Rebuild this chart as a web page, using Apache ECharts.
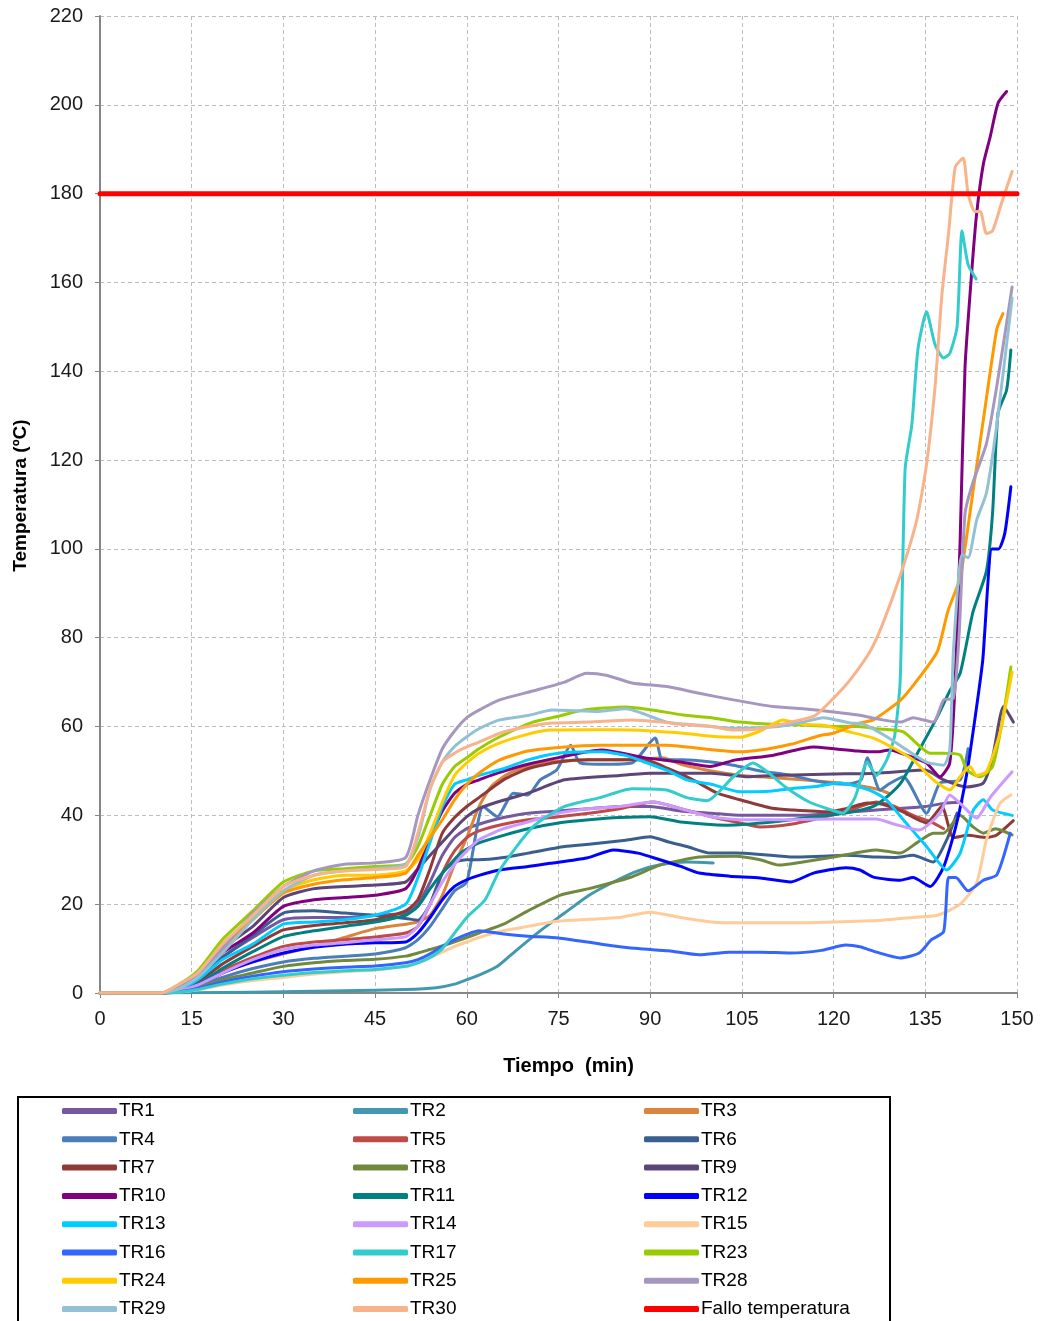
<!DOCTYPE html>
<html>
<head>
<meta charset="utf-8">
<title>Temperatura vs tiempo</title>
<script src="https://cdn.jsdelivr.net/npm/echarts@6/dist/echarts.min.js"></script>
<style>
  html, body { margin: 0; padding: 0; background: #fff; }
  #chart { width: 1040px; height: 1321px; }
</style>
</head>
<body>
<div id="chart"></div>
<script>
// Thermocouple readings: [time (min), temperature (ºC)]
const TR1 = [[0,0],[10,0],[13,1],[16,3],[20,8],[25,12.5],[30,16.5],[35,17],[40,17],[45,17.5],[50,18],[52,20],[54,25],[56,31],[58,35],[60,37],[62,38],[66,39.5],[70,40.5],[75,41],[80,41.5],[85,42],[90,42],[95,41],[100,40.5],[105,40],[110,40],[115,40],[120,40.5],[125,41],[130,41.5],[135,42],[138,42.7],[141,43]];
const TR2 = [[0,0],[10,0],[20,0.1],[30,0.3],[40,0.5],[50,0.8],[55,1.2],[58,2],[60,3],[62,4],[65,6],[68,9.5],[72,14],[76,18],[80,22],[84,25],[88,27.5],[92,29],[96,29.5],[100.3,29.3]];
const TR3 = [[0,0],[10,0],[13,0.5],[16,1.8],[20,4.5],[25,7],[30,8.8],[35,10.5],[40,12.5],[45,14.5],[50,15.5],[52,16],[54,17.5],[56,22],[58,29],[60,35],[62,42],[64,46.5],[67,49.5],[72,51.8],[80,52.5],[88,52.5],[92,53],[95,51.5],[100,50],[105,49],[110,48.5],[115,48],[121,47.3],[125,46.5],[127.6,45.7],[129,45]];
const TR4 = [[0,0],[10,0],[13,0.4],[16,1.4],[20,3.5],[25,5.5],[30,7],[35,7.8],[40,8.3],[45,8.8],[50,10.2],[52,12],[54,15],[56,19],[58,23],[60,25],[62.7,42],[65,39.7],[67.6,45],[70,44.6],[72,48],[74.7,50.2],[77,55.8],[78.5,51.8],[82,51.5],[87,51.8],[90.8,57.4],[92,52.5],[95.4,52.5],[100,52],[103.6,51.3],[108,50],[113,49],[118,47.5],[122,47],[124.5,48],[125.5,53],[127.6,45.7],[129,47],[131.4,48.7],[135.2,40.5],[137.4,47.3],[140.7,48],[142,55]];
const TR5 = [[0,0],[10,0],[13,0.6],[16,2],[20,5],[25,8],[30,10.5],[35,11.5],[40,12],[45,12.6],[50,13.5],[52,15],[54,20],[56,27],[58,32],[60,35],[62,36.5],[66,38],[70,39],[75,39.7],[80,40.5],[85,41.5],[90.5,43],[95,41.5],[100,39.7],[104,38.5],[108,37.4],[113,38],[118,39.5],[122,40.8],[127,43],[130,42],[133,40],[136,38.5],[138,37]];
const TR6 = [[0,0],[10,0],[13,1],[16,3],[20,8],[25,13],[30,18],[35,18.5],[40,18],[45,17.5],[50,16.8],[52,16.4],[54,20],[56,27],[58,29.5],[60,30],[62,30],[66,30.5],[70,31.5],[76,33],[80,33.5],[86,34.4],[90,35.2],[93,34],[96,33],[99.8,31.5],[104,31.5],[108,31.2],[113.4,30.6],[118,30.8],[122,31],[127,30.6],[130,30.5],[133,31],[136.3,29.5],[138.5,34.5],[140.2,40.5]];
const TR7 = [[0,0],[10,0],[13,0.8],[16,2.5],[20,6.5],[25,10.5],[30,14.2],[35,15.2],[40,15.8],[45,16.5],[50,18.5],[52,21],[54,28],[56,36],[58,39.5],[60,42],[62,44],[66,48],[70,50.5],[75,52],[80,52.5],[89,52.5],[93,50.5],[97,48],[101,45],[104.7,43.5],[110,41.6],[113.4,41.2],[119,40.8],[122,41.5],[125.5,42.8],[128,42.5],[131,41],[135.2,38.3],[137.7,42],[139.6,35],[142,35.5],[145,35],[146.7,35.6],[149.4,38.8]];
const TR8 = [[0,0],[10,0],[13,0.3],[16,1.2],[20,3],[25,4.5],[30,6],[35,6.8],[40,7.3],[45,7.6],[50,8.3],[52,9],[54,9.8],[56,10.6],[58,11.5],[62,13.5],[66,15.5],[70,18.5],[75.2,22],[80,23.5],[86.7,26],[91.6,28.8],[98,30.6],[104,30.8],[108,30],[111,28.8],[115,29.5],[120,30.6],[127,32.2],[130.9,31.5],[133.6,33.8],[136.3,36],[138,36],[140.7,40],[142.8,37.4],[144.5,36],[146.5,37],[149.2,35.6]];
const TR9 = [[0,0],[10,0],[13,1],[16,4],[20,10],[25,15],[30,21.5],[35,23.5],[40,24],[45,24.3],[50,25],[52,28],[54,31],[56,34],[58,37],[60,39.7],[62,41.5],[65,43],[70,45],[76,48],[85,49],[90,49.5],[95,49.5],[100,49.5],[106,48.7],[110,49],[120,49.3],[127,49.5],[135,50.2],[138,48],[141.8,46.4],[144.5,47.3],[146,53],[147.8,64.5],[149.4,61]];
const TR10 = [[0,0],[10,0],[13,1],[16,3.5],[20,9],[25,13.5],[30,19.5],[35,21],[40,21.5],[45,22],[50,23.5],[52,28],[54,35],[56,41],[58,45],[60,47],[62,48],[65,49.5],[70,51.5],[75,53],[82,54.7],[89,53],[95,52],[99.8,51],[104,52.5],[110,53.5],[116.7,55.4],[120,55],[124,54.5],[127,54.3],[129.2,54.7],[132,53.5],[135.2,51.8],[137.4,48.7],[139,51.8],[139.9,70.5],[140.7,102],[141.5,141],[142.6,162.5],[143.4,175.5],[144.5,186.7],[145.6,192.7],[146.9,200.4],[148.3,203]];
const TR11 = [[0,0],[10,0],[13,0.6],[16,2],[20,5.5],[25,9.3],[30,12.7],[35,14],[40,15],[45,16],[50,17.5],[52,19.5],[54,23.5],[56,27],[59,31.5],[62,33.8],[66,35.5],[70,37],[75,38.3],[80,39],[85,39.5],[90,39.7],[95,38.5],[102.6,37.8],[110,38.5],[117,39.7],[122,40.5],[126.5,42],[129,44.5],[131,47.3],[134,54.7],[136.9,62],[139,68],[140.7,72],[142.8,85.8],[145,95],[146,108],[146.9,130.6],[148.3,135.8],[149,144.8]];
const TR12 = [[0,0],[10,0],[13,0.5],[16,1.8],[20,4.5],[25,7],[30,9],[35,10.3],[40,11],[45,11.3],[50,11.5],[52,13.5],[54,17],[56,21],[58,24],[60,25.5],[62,26.5],[65.4,27.7],[70,28.5],[73.6,29.2],[79.6,30.4],[84,32.2],[88,31.5],[91.6,30],[95,28.5],[98,27],[103,26.3],[108,25.9],[113,25],[116.7,27],[122,28.2],[124.3,27.7],[126.5,26.1],[130.9,25.4],[133,26],[135.8,24],[138,28.4],[140,37.5],[141.8,49.5],[143.4,64.5],[144.4,75],[145.9,100],[147,100],[148,103.5],[149,114]];
const TR13 = [[0,0],[10,0],[13,0.8],[16,3],[20,7.5],[25,11],[30,15.5],[35,16],[40,16.5],[45,17.5],[50,20],[52,26],[54,34],[56,42],[58,47],[60,48],[62,49],[66,50.5],[70,52.5],[75,54],[82,54.3],[86,53.5],[89.5,51.8],[93,50],[96,48],[100,47],[104.7,45.3],[110,45.5],[113,46],[117,46.5],[121,47.3],[124.3,46.4],[126.5,45.3],[128.7,43.4],[131.4,39],[135.2,33],[138.5,27.7],[140.7,31.5],[142.8,41],[144.5,43.5],[146,41.2],[149.2,40]];
const TR14 = [[0,0],[10,0],[13,0.5],[16,1.8],[20,4.5],[25,7.5],[30,9.8],[35,10.8],[40,11.3],[45,12],[50,12.7],[52,15],[54,20],[56,25],[58,29],[60,32],[62,34.5],[66,37],[70,38.5],[75,40.5],[80,41.5],[85,42],[90.5,43],[95,41.5],[100,39.7],[105,39],[113,39],[120,39.2],[127,39.2],[130,38],[134,36.7],[137.4,40.5],[139,44.6],[140.7,42.7],[143.4,39.4],[145.6,44],[149.2,49.8]];
const TR15 = [[0,0],[10,0],[13,0.2],[16,0.7],[20,1.8],[25,2.8],[30,3.5],[35,4.3],[40,4.8],[45,5.2],[50,6],[52,6.8],[54,8],[56,9.2],[58,10.5],[60,11.5],[62,12.5],[66,14],[70,15],[75,16.2],[80,16.6],[85,17],[90,18.2],[95,17],[100,16],[105,15.8],[113,15.8],[120,16],[128,16.4],[133,17],[137,17.5],[140.7,20],[143.4,24.8],[145,34.5],[147.2,42.7],[149,44.6]];
const TR16 = [[0,0],[10,0],[13,0.3],[16,1],[20,2.5],[25,3.8],[30,4.8],[35,5.4],[40,5.8],[45,6.1],[50,6.8],[52,7.5],[54,8.8],[56,10.5],[58,12],[60,13.2],[62,14],[66,13.3],[70,12.8],[75,12.4],[82,11],[88,10],[93,9.5],[98,8.6],[103,9.2],[108,9.2],[113,9],[118,9.6],[122,10.8],[124.3,10.4],[127,9.2],[130.9,7.9],[134,9],[136,12],[138,13.8],[138.8,26],[140,26],[142,23],[144.5,25.4],[146.7,26.6],[148.9,36]];
const TR17 = [[0,0],[10,0],[13,0.2],[16,0.8],[20,2],[25,3.2],[30,4],[35,4.6],[40,5],[45,5.3],[50,6],[52,6.8],[54,8],[56,10],[58,13.5],[60,17],[63,21],[65.4,27.7],[70.8,37.4],[76,42],[81.8,44],[87,46],[92.7,45.7],[96,44],[99.3,43.3],[103.6,48.7],[106.8,51.8],[109,50],[112,46.5],[116,43],[119,41.5],[121.5,40.5],[123.5,44],[125.5,52],[127,49],[128.7,52.5],[130,58],[130.9,70.5],[131.7,118],[132.8,128],[133.8,145],[135.2,153.4],[136.6,146],[138,143],[139,144],[140.2,150],[141,171.6],[142,164],[143.3,160.8]];
const TR23 = [[0,0],[10,0],[13,2],[16,5],[20,12],[25,18.5],[30,25],[35,27.5],[40,28],[45,28.5],[50,29],[52,33],[54,40],[56,47],[58,51],[60,53],[62,55],[65.4,57.7],[70.8,61],[75,62.3],[79,63.7],[86,64.4],[90,63.8],[95.4,62.6],[100,62],[104.7,61],[110,60.5],[115.6,60.3],[120,60],[124,60],[127,59.5],[131.4,58.8],[135.8,54],[138,54],[140.7,53.6],[141.8,50.2],[143.9,48.7],[146,51],[147.7,62],[149,73.4]];
const TR24 = [[0,0],[10,0],[13,1.5],[16,4.5],[20,10.5],[25,17],[30,23],[35,25.5],[40,26.5],[45,26.5],[50,27.5],[52,30],[54,36],[56,43],[58,49],[60,51.8],[62,54],[65.4,56.3],[70,58.3],[73.6,59.2],[80,59.3],[87,59.2],[90,59],[95.4,58.5],[100,57.8],[104.7,57.6],[108,59],[111.7,61.5],[115,60.5],[118.3,60.3],[122,59],[126.5,57.4],[130,55],[133,52.5],[136.3,48],[139,45.7],[140.7,48.7],[142.3,51],[143.4,49],[145,49.8],[147.2,58.5],[149.2,72.3]];
const TR25 = [[0,0],[10,0],[13,1.5],[16,4],[20,10],[25,16.5],[30,22.5],[35,24.5],[40,25.5],[45,26],[50,27],[52,31],[54,35],[56,39],[58,43.5],[60,47],[62,49.5],[65.4,52.5],[70,54.5],[75,55.3],[81.8,55.8],[92.7,55.8],[100,54.8],[104.7,54.3],[108,54.7],[113,56],[117.8,58],[120,58.5],[124.3,60.8],[126.5,61.5],[131,66],[134,71],[137,77],[138.7,86],[140.7,93.5],[142.5,110],[144.8,132],[146.7,149.5],[147.7,153]];
const TR28 = [[0,0],[10,0],[13,1.5],[16,4],[20,10],[25,18],[30,24],[35,27.5],[40,29],[45,29.3],[50,30.5],[52,40],[54,48],[56,55],[58,59],[60,62],[62,63.7],[65.4,66],[70.8,68],[76,70],[79.6,72],[83,71.5],[87,69.8],[92.7,69],[98,67.5],[103.6,66],[110,64.5],[115,64],[120,63.3],[124,62.6],[128,61.5],[131,61],[133,62],[136.3,61],[138,66],[139.6,66.4],[140.5,80],[141.5,108],[142.8,115],[145,123.7],[146.7,136.7],[149.2,159]];
const TR29 = [[0,0],[10,0],[13,1],[16,3.5],[20,9],[25,16.5],[30,23],[35,26.5],[40,27.5],[45,28],[50,29],[52,35],[54,46],[56,52],[58,55.5],[60,57.7],[62,59.5],[65.4,61.5],[70,62.5],[74,63.7],[81.6,63.4],[86,64],[92.7,61],[98,60.3],[103.6,59.6],[111,60],[115,61],[118.3,62],[122.7,60.8],[125,60.5],[128.7,57.7],[132,54.7],[135.2,52],[138,51.3],[139,54.7],[139.6,77],[141,98.7],[142,98],[143.4,106.5],[145,112.6],[146.7,128],[149.2,156.5]];
const TR30 = [[0,0],[10,0],[13,2],[16,4.5],[20,11],[25,17.5],[30,24],[35,26.5],[40,27.5],[45,27.8],[50,28.5],[52,36],[54,46],[56,52],[58,54],[60,55.4],[62,56.5],[65.4,58.5],[70,60],[74,60.8],[80,61],[87,61.5],[92,61],[95,60.5],[100,60],[103.6,59.2],[108,59.5],[113,61],[117,62.5],[120,66.4],[122.7,70.5],[126,77],[128,83],[130.9,94],[133.6,106.5],[135.2,119],[136.6,136.6],[137.7,157],[138.8,171],[139.9,186],[141.2,188],[142,180],[143.1,176],[144,176],[145,171],[146,171.6],[147.5,178],[149.2,185]];
const FALLO = [[0,180],[150,180]];

const seriesNames = ['TR1','TR2','TR3','TR4','TR5','TR6','TR7','TR8','TR9','TR10','TR11','TR12','TR13','TR14','TR15','TR16','TR17','TR23','TR24','TR25','TR28','TR29','TR30','Fallo temperatura'];
const seriesData = [TR1,TR2,TR3,TR4,TR5,TR6,TR7,TR8,TR9,TR10,TR11,TR12,TR13,TR14,TR15,TR16,TR17,TR23,TR24,TR25,TR28,TR29,TR30,FALLO];
const seriesColors = ['#7658a0','#4198af','#db843d','#4a7ebb','#be4b48','#3a5f8f','#8e3a38','#71893f','#5c4677','#800080','#008080','#0000ff','#00ccff','#cc99ff','#ffcc99','#3366ff','#33cccc','#99cc00','#ffcc00','#ff9900','#a597bf','#93c0d5','#f8b38b','#ff0000'];

const xTicks = { min: 0, max: 150, step: 15 };
const yTicks = { min: 0, max: 220, step: 20 };

const legendColumns = [
  ['TR1','TR4','TR7','TR10','TR13','TR16','TR24','TR29'],
  ['TR2','TR5','TR8','TR11','TR14','TR17','TR25','TR30'],
  ['TR3','TR6','TR9','TR12','TR15','TR23','TR28','Fallo temperatura']
];

const FONT = '"Liberation Sans", Arial, sans-serif';
const axisGrey = '#868686';

const chart = echarts.init(document.getElementById('chart'), null, { renderer: 'canvas' });

const series = seriesNames.map((name, i) => ({
  name: name,
  type: 'line',
  data: seriesData[i],
  showSymbol: false,
  symbol: 'none',
  smooth: name === 'Fallo temperatura' ? false : 0.2,
  color: seriesColors[i],
  lineStyle: { width: name === 'Fallo temperatura' ? 5 : 3, color: seriesColors[i], cap: 'round', join: 'round' },
  emphasis: { disabled: true },
  z: 2
}));

const legendLeft = [62, 353, 644];
const legends = legendColumns.map((col, k) => ({
  orient: 'vertical',
  left: legendLeft[k],
  top: 1101,
  padding: 0,
  itemWidth: 55,
  itemHeight: 6,
  itemGap: 8.3,
  icon: 'roundRect',
  selectedMode: false,
  textStyle: { fontFamily: FONT, fontSize: 19, color: '#000', lineHeight: 20, padding: [0, 0, 0, -3] },
  data: col
}));

chart.setOption({
  animation: false,
  backgroundColor: '#fff',
  grid: { left: 100, right: 23, top: 16, bottom: 328, containLabel: false, outerBoundsMode: 'none' },
  xAxis: {
    type: 'value',
    min: xTicks.min, max: xTicks.max, interval: xTicks.step,
    name: 'Tiempo  (min)',
    nameLocation: 'middle',
    nameGap: 63,
    nameTextStyle: { fontFamily: FONT, fontSize: 20, fontWeight: 'bold', color: '#000', padding: [0, 0, 0, 20] },
    axisLine: { show: true, lineStyle: { color: axisGrey, width: 2 } },
    axisTick: { show: true, length: 5, lineStyle: { color: axisGrey, width: 1 } },
    axisLabel: { fontFamily: FONT, fontSize: 20, color: '#1a1a1a', margin: 16 },
    splitLine: { show: true, lineStyle: { color: '#bdbdbd', type: [4, 3], width: 1 } }
  },
  yAxis: {
    type: 'value',
    min: yTicks.min, max: yTicks.max, interval: yTicks.step,
    name: 'Temperatura (ºC)',
    nameLocation: 'middle',
    nameGap: 70,
    nameTextStyle: { fontFamily: FONT, fontSize: 19, fontWeight: 'bold', color: '#000', padding: [0, 0, 0, 18] },
    axisLine: { show: true, lineStyle: { color: axisGrey, width: 2 } },
    axisTick: { show: true, length: 5, lineStyle: { color: axisGrey, width: 1 } },
    axisLabel: { fontFamily: FONT, fontSize: 20, color: '#1a1a1a', margin: 17 },
    splitLine: { show: true, lineStyle: { color: '#bdbdbd', type: [4, 3], width: 1 } }
  },
  legend: legends,
  graphic: [{
    type: 'rect',
    shape: { x: 18, y: 1097, width: 872, height: 240 },
    style: { fill: 'none', stroke: '#000', lineWidth: 2 },
    silent: true
  }],
  series: series
});
</script>
</body>
</html>
